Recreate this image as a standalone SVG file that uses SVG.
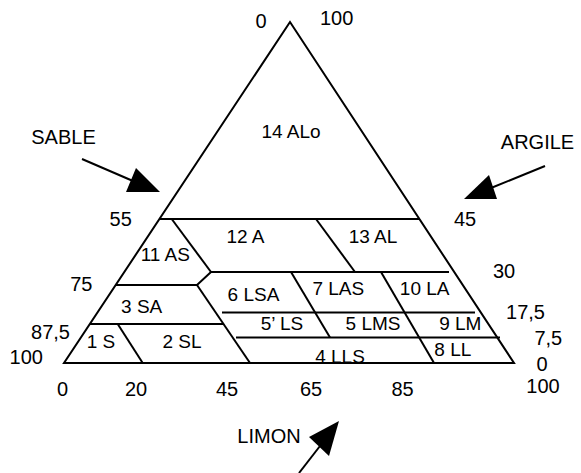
<svg xmlns="http://www.w3.org/2000/svg" width="581" height="473" viewBox="0 0 581 473">
<style>
text{font-family:"Liberation Sans",Arial,Helvetica,sans-serif;fill:#000;text-anchor:middle}
.r{font-size:19px}
.a{font-size:20px}
.ln{stroke:#000;stroke-width:2;fill:none;stroke-linecap:butt}
.ar{stroke:#000;stroke-width:2;fill:none}
.hd{fill:#000;stroke:none}
</style>
<rect width="581" height="473" fill="#fff"/>
<g id="triangle">
<polygon class="ln" points="290,22 64,363 514,363" stroke-linejoin="miter"/>
</g>
<g id="connectors">
<line class="ln" x1="159" y1="219" x2="420" y2="219"/>
<line class="ln" x1="171.7" y1="219" x2="211" y2="272"/>
<line class="ln" x1="316" y1="219" x2="355" y2="272"/>
<line class="ln" x1="211" y1="272" x2="449" y2="272"/>
<polyline class="ln" points="116,285 197,285 211,272"/>
<line class="ln" x1="197" y1="285" x2="250" y2="363"/>
<line class="ln" x1="90" y1="324" x2="223" y2="324"/>
<line class="ln" x1="117.7" y1="324" x2="142.7" y2="363"/>
<line class="ln" x1="222" y1="312.5" x2="475" y2="312.5"/>
<line class="ln" x1="236" y1="337.5" x2="500" y2="337.5"/>
<line class="ln" x1="291" y1="272" x2="330" y2="337.5"/>
<line class="ln" x1="381" y1="272" x2="434" y2="363"/>
</g>
<g id="arrows">
<g id="arrow-sable">
<line class="ar" x1="82" y1="159" x2="133" y2="181"/>
<polygon class="hd" points="136,168 160,192 126,192"/>
</g>
<g id="arrow-argile">
<line class="ar" x1="545" y1="166" x2="491" y2="188"/>
<polygon class="hd" points="464,199 489,175 497,199"/>
</g>
<g id="arrow-limon">
<line class="ar" x1="299" y1="473" x2="320" y2="446"/>
<polygon class="hd" points="339,421 309,437 329,456"/>
</g>
</g>
<g id="zones">
<g id="z14"><text class="r" x="291" y="138">14 ALo</text></g>
<g id="z12"><text class="r" x="245.5" y="243">12 A</text></g>
<g id="z13"><text class="r" x="373" y="243">13 AL</text></g>
<g id="z11"><text class="r" x="165.3" y="261">11 AS</text></g>
<g id="z3"><text class="r" x="141.7" y="313">3 SA</text></g>
<g id="z1"><text class="r" x="101" y="347.5">1 S</text></g>
<g id="z2"><text class="r" x="182" y="347.5">2 SL</text></g>
<g id="z6"><text class="r" x="253.5" y="301">6 LSA</text></g>
<g id="z7"><text class="r" x="338.3" y="295">7 LAS</text></g>
<g id="z10"><text class="r" x="424.7" y="295">10 LA</text></g>
<g id="z5p"><text class="r" x="282" y="329.5">5’ LS</text></g>
<g id="z5"><text class="r" x="373" y="330">5 LMS</text></g>
<g id="z9"><text class="r" x="460.3" y="330">9 LM</text></g>
<g id="z8"><text class="r" x="452.8" y="355.5">8 LL</text></g>
<g id="z4"><text class="r" x="340" y="362.5">4 LLS</text></g>
</g>
<g id="axis-labels">
<text class="a" x="63.5" y="144">SABLE</text>
<text class="a" x="537.5" y="149">ARGILE</text>
<text class="a" x="269" y="442.5">LIMON</text>
<text class="a" x="261" y="28">0</text>
<text class="a" x="336.7" y="25">100</text>
<text class="a" x="120.7" y="226">55</text>
<text class="a" x="81.3" y="291">75</text>
<text class="a" x="50.5" y="339">87,5</text>
<text class="a" x="26.3" y="364">100</text>
<text class="a" x="465" y="226">45</text>
<text class="a" x="504" y="278">30</text>
<text class="a" x="525.5" y="319">17,5</text>
<text class="a" x="548.3" y="345">7,5</text>
<text class="a" x="542" y="370.5">0</text>
<text class="a" x="543" y="393">100</text>
<text class="a" x="62.5" y="395.5">0</text>
<text class="a" x="136" y="395.5">20</text>
<text class="a" x="227" y="395.5">45</text>
<text class="a" x="311" y="395.5">65</text>
<text class="a" x="402.5" y="395.5">85</text>
</g>
</svg>
